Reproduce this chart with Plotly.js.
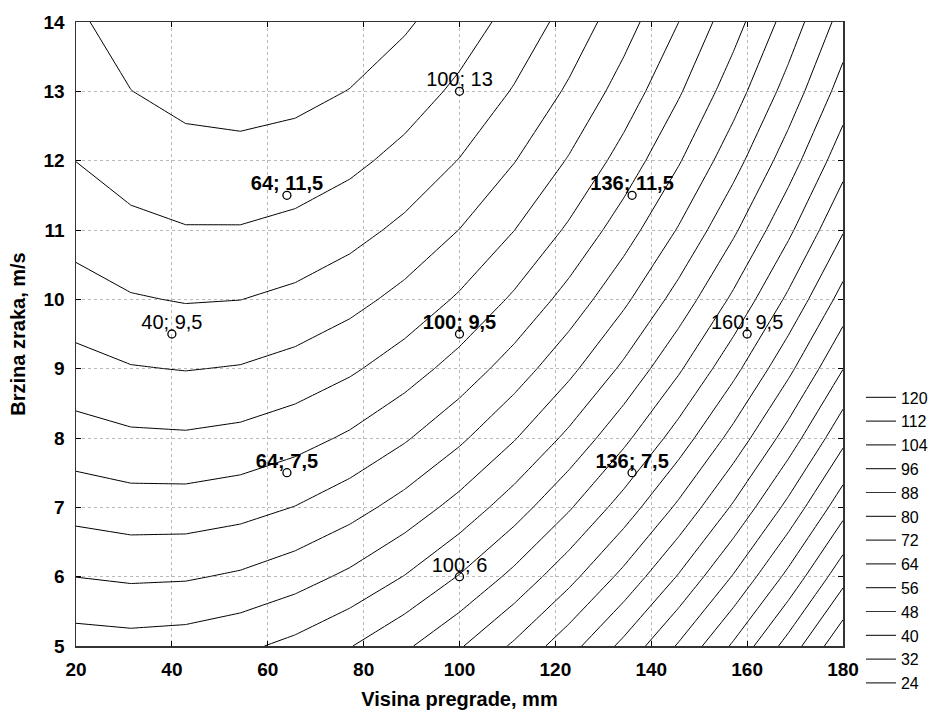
<!DOCTYPE html>
<html>
<head>
<meta charset="utf-8">
<script src="https://cdn.plot.ly/plotly-3.0.1.min.js"></script>
<style>html,body{margin:0;padding:0;background:#fff;}#chart{width:943px;height:715px;}</style>
</head>
<body>
<div id="chart"></div>
<script>
// Grid of the fitted surface
const gridX = [20, 31.43, 42.86, 54.29, 65.71, 77.14, 88.57, 100, 111.43, 122.86, 134.29, 145.71, 157.14, 168.57, 180];
const gridY = [5, 6, 7, 8, 9, 10, 11, 12, 13, 14];
const gridZ = [
  [91.94, 91.17, 91.95, 94.28, 98.18, 103.62, 110.62, 119.18, 129.29, 140.95, 154.17, 168.93, 185.25, 203.14, 222.58],
  [79.92, 78.77, 79.17, 81.12, 84.62, 89.68, 96.30, 104.47, 114.19, 125.48, 138.30, 152.68, 168.62, 186.12, 205.17],
  [69.06, 67.52, 67.53, 69.10, 72.22, 76.89, 83.12, 90.91, 100.25, 111.14, 123.59, 137.58, 153.13, 170.25, 188.92],
  [59.34, 57.42, 57.04, 58.22, 60.96, 65.24, 71.09, 78.49, 87.45, 97.96, 110.02, 123.63, 138.79, 155.52, 173.80],
  [50.77, 48.46, 47.70, 48.49, 50.85, 54.75, 60.21, 67.22, 75.79, 85.92, 97.59, 110.82, 125.60, 141.94, 159.84],
  [43.34, 40.65, 39.50, 39.91, 41.88, 45.39, 50.47, 57.10, 65.29, 75.03, 86.31, 99.16, 113.55, 129.51, 147.02],
  [37.06, 33.98, 32.45, 32.47, 34.06, 37.19, 41.88, 48.12, 55.92, 65.28, 76.18, 88.64, 102.65, 118.22, 135.35],
  [31.92, 28.46, 26.55, 26.18, 27.38, 30.12, 34.43, 40.29, 47.71, 56.68, 67.19, 79.27, 92.89, 108.08, 124.82],
  [27.94, 24.09, 21.79, 21.04, 21.86, 24.21, 28.13, 33.61, 40.64, 49.22, 59.35, 71.04, 84.28, 99.08, 115.44],
  [25.09, 20.86, 18.18, 17.04, 17.47, 19.44, 22.98, 28.07, 34.71, 42.92, 52.66, 63.96, 76.81, 91.23, 107.20]
];
const levelStart = 24;
const levelEnd = 216;
const levelStep = 8;
const legendLevels = [120, 112, 104, 96, 88, 80, 72, 64, 56, 48, 40, 32, 24];

// Experimental points
const ptX = [100, 64, 136, 40, 100, 160, 64, 136, 100];
const ptY = [13, 11.5, 11.5, 9.5, 9.5, 9.5, 7.5, 7.5, 6];
const ptLabel = ['100; 13', '64; 11,5', '136; 11,5', '40; 9,5', '100; 9,5', '160; 9,5', '64; 7,5', '136; 7,5', '100; 6'];
const ptBold = [false, true, true, false, true, false, true, true, false];

const FONT = 'Liberation Sans, Arial, sans-serif';

const traces = [];
traces.push({
  type: 'contour', x: gridX, y: gridY, z: gridZ,
  autocontour: false,
  contours: {coloring: 'lines', start: levelStart, end: levelEnd, size: levelStep, showlabels: false},
  line: {width: 1, smoothing: 0},
  colorscale: [[0, '#000'], [1, '#000']],
  showscale: false, showlegend: false, hoverinfo: 'skip'
});
traces.push({
  type: 'scatter', mode: 'markers', x: ptX, y: ptY,
  marker: {symbol: 'circle-open', size: 8, color: '#000', line: {width: 1.3, color: '#000'}},
  showlegend: false, hoverinfo: 'skip'
});
const normIdx = ptX.map((_, i) => i).filter(i => !ptBold[i]);
const boldIdx = ptX.map((_, i) => i).filter(i => ptBold[i]);
traces.push({
  type: 'scatter', mode: 'text',
  x: normIdx.map(i => ptX[i]), y: normIdx.map(i => ptY[i]), text: normIdx.map(i => ptLabel[i]),
  textposition: 'top center', textfont: {family: FONT, size: 20, color: '#000'},
  showlegend: false, hoverinfo: 'skip', cliponaxis: false
});
traces.push({
  type: 'scatter', mode: 'text',
  x: boldIdx.map(i => ptX[i]), y: boldIdx.map(i => ptY[i]), text: boldIdx.map(i => ptLabel[i]),
  textposition: 'top center', textfont: {family: FONT, size: 20, color: '#000', weight: 'bold'},
  showlegend: false, hoverinfo: 'skip', cliponaxis: false
});
legendLevels.forEach(v => {
  traces.push({
    type: 'scatter', mode: 'lines', x: [null], y: [null], name: String(v),
    line: {color: '#333', width: 1.2}, showlegend: true, hoverinfo: 'skip'
  });
});

const axisCommon = {
  showline: true, linecolor: '#333', linewidth: 1.5, mirror: 'ticks',
  ticks: 'inside', ticklen: 5, tickwidth: 1, tickcolor: '#000',
  showgrid: true, gridcolor: '#a8a8a8', griddash: 'dot', gridwidth: 0.8,
  zeroline: false,
  tickfont: {family: FONT, size: 19, color: '#000', weight: 'bold'}
};

const layout = {
  width: 943, height: 715,
  margin: {l: 76, r: 100, t: 22, b: 69, pad: 0},
  paper_bgcolor: '#fff', plot_bgcolor: '#fff',
  font: {family: FONT, color: '#000'},
  xaxis: Object.assign({}, axisCommon, {
    range: [20, 180], tick0: 20, dtick: 20, ticklabelstandoff: 6,
    title: {text: 'Visina pregrade, mm', font: {family: FONT, size: 20, color: '#000', weight: 'bold'}, standoff: 12}
  }),
  yaxis: Object.assign({}, axisCommon, {
    range: [5, 14], tick0: 5, dtick: 1, ticklabelstandoff: 6,
    title: {text: 'Brzina zraka, m/s', font: {family: FONT, size: 20, color: '#000', weight: 'bold'}, standoff: 12}
  }),
  showlegend: true,
  legend: {
    xref: 'container', yref: 'container',
    x: 0.913, y: 0.468, xanchor: 'left', yanchor: 'top',
    font: {family: FONT, size: 16, color: '#000'},
    bgcolor: 'rgba(0,0,0,0)', borderwidth: 0, tracegroupgap: 0, itemwidth: 30
  }
};

Plotly.newPlot('chart', traces, layout, {staticPlot: true, displayModeBar: false});
</script>
</body>
</html>
